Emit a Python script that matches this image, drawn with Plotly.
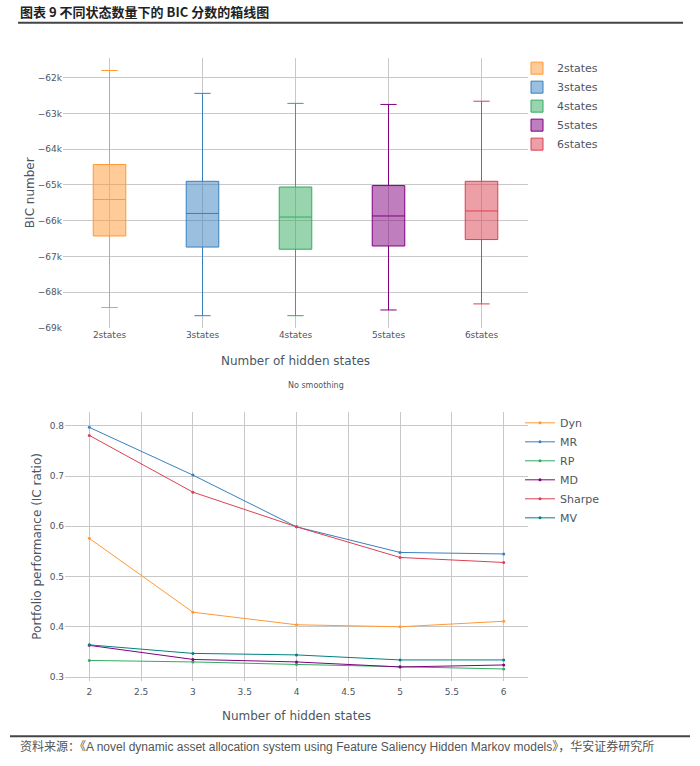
import plotly.graph_objects as go

# ---- data: BIC box plot ----
box_cats = ["2states", "3states", "4states", "5states", "6states"]
box_upper = [-61800, -62440, -62720, -62750, -62660]
box_q3 = [-64430, -64900, -65060, -65020, -64900]
box_median = [-65410, -65800, -65900, -65870, -65730]
box_q1 = [-66430, -66740, -66800, -66710, -66530]
box_lower = [-68430, -68660, -68660, -68500, -68330]
box_colors = ["#ff9933", "#3780bf", "#32ab60", "#800080", "#db4052"]

# ---- data: portfolio performance lines ----
n_states = [2, 3, 4, 5, 6]
series_names = ["Dyn", "MR", "RP", "MD", "Sharpe", "MV"]
dyn = [0.576, 0.429, 0.404, 0.400, 0.411]
mr = [0.797, 0.702, 0.599, 0.548, 0.545]
rp = [0.333, 0.330, 0.325, 0.321, 0.316]
md = [0.363, 0.335, 0.330, 0.320, 0.324]
sharpe = [0.781, 0.668, 0.599, 0.538, 0.528]
mv = [0.364, 0.347, 0.344, 0.334, 0.334]
line_values = [dyn, mr, rp, md, sharpe, mv]
line_colors = ["#ff9933", "#3780bf", "#32ab60", "#800080", "#db4052", "#008080"]

W, H = 700, 766
FONT = "DejaVu Sans"
TXT = "#4D5663"
GRID = "#c8c8c8"


def py(p):
    return 1 - p / H


def px(p):
    return p / W


def rgba(hexc, a):
    h = hexc.lstrip("#")
    r, g, b = int(h[0:2], 16), int(h[2:4], 16), int(h[4:6], 16)
    return f"rgba({r},{g},{b},{a})"


fig = go.Figure()

for i, c in enumerate(box_cats):
    fig.add_trace(go.Box(
        x=[c], q1=[box_q1[i]], median=[box_median[i]], q3=[box_q3[i]],
        lowerfence=[box_lower[i]], upperfence=[box_upper[i]],
        name=c, marker_color=box_colors[i], line=dict(width=1),
        fillcolor=rgba(box_colors[i], 0.5), whiskerwidth=0.5,
        xaxis="x", yaxis="y", legend="legend",
    ))

for name, vals, col in zip(series_names, line_values, line_colors):
    fig.add_trace(go.Scatter(
        x=n_states, y=vals, name=name, mode="lines+markers",
        line=dict(color=col, width=1), marker=dict(size=3, color=col),
        xaxis="x2", yaxis="y2", legend="legend2",
    ))

axis_common = dict(
    showgrid=True, gridcolor=GRID, gridwidth=1, zeroline=False,
    showline=False, tickfont=dict(family=FONT, size=9, color=TXT),
)
title_font = dict(size=12, color=TXT, family=FONT)

fig.update_layout(
    width=W, height=H, margin=dict(l=0, r=0, t=0, b=0),
    paper_bgcolor="white", plot_bgcolor="white",
    font=dict(family=FONT, color=TXT),
    boxgap=0.5,
    xaxis=dict(domain=[px(63), px(528)], anchor="y", type="category", ticks="",
               title=dict(text="Number of hidden states", font=title_font, standoff=17),
               **axis_common),
    yaxis=dict(domain=[py(330), py(58)], anchor="x", range=[-69000, -61440], ticks="",
               dtick=1000, title=dict(text="BIC number", font=title_font, standoff=0),
               **axis_common),
    xaxis2=dict(domain=[px(65), px(528)], anchor="y2", range=[1.765, 6.235], dtick=0.5,
                ticks="outside", ticklen=3, tickcolor="rgba(0,0,0,0)",
                title=dict(text="Number of hidden states", font=title_font, standoff=15),
                **axis_common),
    yaxis2=dict(domain=[py(685), py(415)], anchor="x2", range=[0.293, 0.827], dtick=0.1, ticks="",
                title=dict(text="Portfolio performance (IC ratio)", font=title_font, standoff=5),
                **axis_common),
    legend=dict(x=px(517), y=py(54), xanchor="left", yanchor="top",
                font=dict(family=FONT, size=11, color=TXT), bgcolor="rgba(0,0,0,0)",
                tracegroupgap=0, itemwidth=30),
    legend2=dict(x=px(520), y=py(411), xanchor="left", yanchor="top",
                 font=dict(family=FONT, size=11, color=TXT), bgcolor="rgba(0,0,0,0)",
                 tracegroupgap=0, itemwidth=30),
    shapes=[
        dict(type="line", xref="paper", yref="paper", x0=px(18), x1=px(683), y0=py(23), y1=py(23),
             line=dict(color="#444444", width=2)),
        dict(type="line", xref="paper", yref="paper", x0=px(10), x1=px(690), y0=py(741), y1=py(741),
             line=dict(color="#444444", width=2)),
    ],
    annotations=[
        dict(text="<b>图表 9 不同状态数量下的 BIC 分数的箱线图</b>", x=px(18), y=py(12), xref="paper", yref="paper",
             xanchor="left", yanchor="middle", showarrow=False,
             font=dict(family="Noto Sans CJK SC", size=13, color="#222222")),
        dict(text="No smoothing", x=px(316), y=py(388), xref="paper", yref="paper",
             xanchor="center", yanchor="middle", showarrow=False,
             font=dict(family=FONT, size=8, color=TXT)),
        dict(text="资料来源：《A novel dynamic asset allocation system using Feature Saliency Hidden Markov models》，华安证券研究所",
             x=px(18), y=py(751), xref="paper", yref="paper", xanchor="left", yanchor="middle", showarrow=False,
             font=dict(family="Liberation Sans, Noto Sans CJK SC", size=12, color="#555555")),
    ],
)

fig.write_html("out.html", config={"displayModeBar": False},
               post_script="document.body.style.margin='0';")
